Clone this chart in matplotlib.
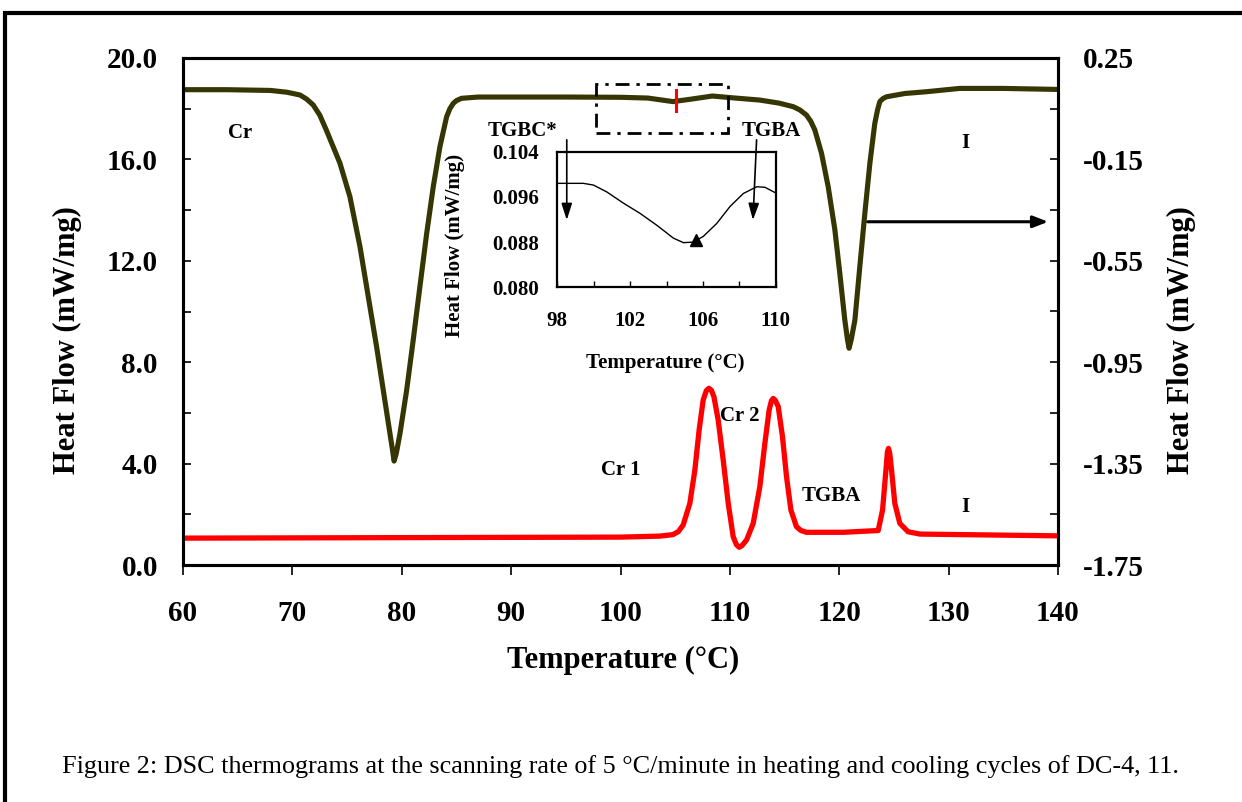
import matplotlib
matplotlib.use("Agg")
import matplotlib.pyplot as plt
import matplotlib.patches as patches
import numpy as np

plt.rcParams['font.family'] = ['Liberation Serif', 'DejaVu Serif']

# ---------------- data ----------------
heat_T = [60, 64, 68, 69.5, 70.7, 71.3, 71.9, 72.5, 73.1, 74.35, 75.26, 76.18, 76.94, 77.7,
          78.31, 78.92, 79.15, 79.3, 79.5, 79.84, 80.45, 81.05, 81.66, 82.28, 82.88,
          83.49, 84.1, 84.4, 84.71, 85.0, 85.47, 87, 95, 100, 102.5, 104.8, 106.5, 108.4, 110.5,
          112.74, 114.5, 115.79, 116.4, 117.0, 117.4, 117.77, 118.38, 118.99, 119.6, 120.05,
          120.51, 120.75, 120.9, 121.1, 121.43, 121.88, 122.34, 122.8, 123.25, 123.5, 123.71,
          124.0, 124.32, 126, 127.98, 131.0, 135, 140]
heat_v = [18.75, 18.75, 18.72, 18.65, 18.54, 18.38, 18.15, 17.75, 17.16, 15.85, 14.53, 12.56,
          10.58, 8.61, 6.90, 5.19, 4.55, 4.1, 4.4, 5.19, 6.90, 8.88, 10.98, 13.08, 14.92,
          16.50, 17.68, 18.0, 18.21, 18.32, 18.41, 18.46, 18.46, 18.45, 18.42, 18.28, 18.38,
          18.5, 18.42, 18.34, 18.22, 18.08, 17.95, 17.75, 17.5, 17.16, 16.24, 14.92, 13.22,
          11.51, 9.66, 8.9, 8.55, 8.9, 9.66, 11.77, 13.87, 15.85, 17.42, 17.95, 18.28,
          18.4, 18.47, 18.6, 18.67, 18.8, 18.8, 18.76]

cool_T = [60, 80, 100, 103.6, 104.8, 105.3, 105.73, 106.34, 106.8, 107.19, 107.56, 107.85,
          108.08, 108.3, 108.54, 108.93, 109.39, 109.85, 110.3, 110.6, 110.85, 111.1, 111.53,
          112.13, 112.74, 113.2, 113.59, 113.8, 113.96, 114.15, 114.42, 114.81, 115.18, 115.58,
          116.09, 116.5, 117.0, 120.36, 123.56, 123.96, 124.27, 124.4, 124.5, 124.62, 124.78,
          125.08, 125.54, 126.3, 127.37, 140]
cool_v = [1.06, 1.08, 1.10, 1.14, 1.2, 1.32, 1.58, 2.43, 3.75, 5.33, 6.51, 6.88,
          6.97, 6.9, 6.64, 5.72, 4.14, 2.43, 1.12, 0.8, 0.7, 0.76, 0.99,
          1.64, 3.09, 4.80, 6.11, 6.48, 6.57, 6.5, 6.25, 5.06, 3.48, 2.17,
          1.51, 1.36, 1.29, 1.29, 1.36, 2.17, 3.75, 4.45, 4.6, 4.4, 3.75,
          2.43, 1.64, 1.31, 1.22, 1.15]

inset_T = [98, 99.43, 99.98, 100.71, 101.63, 102.54, 103.46, 104.38, 104.93, 105.47,
           106.02, 106.76, 107.49, 108.22, 108.96, 109.41, 110]
inset_v = [0.0984, 0.0984, 0.0981, 0.0969, 0.0949, 0.0931, 0.0910, 0.0887, 0.0879, 0.0880,
           0.0890, 0.0913, 0.0943, 0.0966, 0.0978, 0.0977, 0.0967]

x_ticks = [60, 70, 80, 90, 100, 110, 120, 130, 140]
y_ticks = [0.0, 4.0, 8.0, 12.0, 16.0, 20.0]
y2_ticks = [-1.75, -1.35, -0.95, -0.55, -0.15, 0.25]
inset_xticks = [98, 102, 106, 110]
inset_yticks = [0.080, 0.088, 0.096, 0.104]

phase_labels = [("Cr", 65.2, 17.04), ("I", 131.5, 16.65), ("Cr 1", 100.0, 3.75),
                ("Cr 2", 110.9, 5.88), ("TGBA", 119.3, 2.74), ("I", 131.5, 2.29),
                ("TGBC*", 91.0, 17.12), ("TGBA", 113.75, 17.12)]

caption = "Figure 2: DSC thermograms at the scanning rate of 5 \u00b0C/minute in heating and cooling cycles of DC-4, 11."

# ---------------- figure ----------------
W, H = 1242, 802
fig = plt.figure(figsize=(W / 100, H / 100), dpi=100)

def fx(px):
    return px / W

def fy(py):
    return 1 - py / H

# outer frame
fig.patches.append(patches.Rectangle((fx(5), -0.5), 2, fy(13) + 0.5, transform=fig.transFigure,
                                     fill=False, lw=3, ec='black'))

ax = fig.add_axes([fx(183), fy(565), fx(1058) - fx(183), fy(58) - fy(565)])
ax.plot(heat_T, heat_v, color='#363604', lw=3.7, solid_joinstyle='round', zorder=3)
ax.plot(cool_T, cool_v, color='#ff0000', lw=3.8, solid_joinstyle='round', zorder=3)

ax.set_xlim(60, 140)
ax.set_ylim(0, 20)
ax.set_xticks(x_ticks)
ax.set_xticklabels([str(t) for t in x_ticks])
ax.set_yticks(y_ticks)
ax.set_yticklabels([f"{t:.1f}" for t in y_ticks])
ax.set_yticks(np.arange(2, 20, 4), minor=True)
for s in ax.spines.values():
    s.set_linewidth(2.2)
ax.tick_params(axis='x', direction='out', length=7, width=1.2, pad=18, labelsize=21)
ax.tick_params(axis='y', which='both', direction='in', length=6, width=1.2, pad=18, labelsize=21)
for lab in ax.get_xticklabels() + ax.get_yticklabels():
    lab.set_fontweight('bold')

ax2 = ax.twinx()
ax2.set_ylim(-1.75, 0.25)
ax2.set_yticks(y2_ticks)
ax2.set_yticklabels([f"{t:.2f}" for t in y2_ticks])
ax2.set_yticks(np.arange(-1.55, 0.25, 0.4), minor=True)
ax2.tick_params(axis='y', which='both', direction='in', length=6, width=1.2, pad=18, labelsize=21)
for lab in ax2.get_yticklabels():
    lab.set_fontweight('bold')
for s in ax2.spines.values():
    s.set_linewidth(2.2)

# dash-dot box and red marker
ax.add_patch(patches.Rectangle((97.75, 17.04), 109.8 - 97.75, 18.97 - 17.04, fill=False,
                               ec='black', lw=2.0, ls=(0, (5, 2.5, 1.2, 2.5)), zorder=4))
ax.plot([105.05, 105.05], [17.9, 18.75], color='#ff0000', lw=2.2, zorder=5)

# horizontal arrow
ax.annotate('', xy=(139.1, 13.54), xytext=(122.6, 13.54),
            arrowprops=dict(arrowstyle='-|>,head_length=0.9,head_width=0.35', color='black', lw=2.2,
                            shrinkA=0, shrinkB=0))

# phase labels
for txt, tx, ty in phase_labels:
    ax.text(tx, ty, txt, fontsize=15, fontweight='bold', ha='center', va='center', zorder=6)

# axis labels
fig.text(fx(67), fy(340), "Heat Flow (mW/mg)", rotation=90, fontsize=22, fontweight='bold',
         ha='center', va='center')
fig.text(fx(1181), fy(340), "Heat Flow (mW/mg)", rotation=90, fontsize=22, fontweight='bold',
         ha='center', va='center')
fig.text(fx(623), fy(660), "Temperature (\u00b0C)", fontsize=22, fontweight='bold',
         ha='center', va='center')

# inset
axi = fig.add_axes([fx(557.3), fy(287.3), fx(775.7) - fx(557.3), fy(151.7) - fy(287.3)])
axi.plot(inset_T, inset_v, color='black', lw=1.0)
axi.set_xlim(98, 110)
axi.set_ylim(0.080, 0.104)
axi.set_xticks(inset_xticks)
axi.set_xticklabels([str(t) for t in inset_xticks])
axi.set_xticks([100, 104, 108], minor=True)
axi.set_yticks(inset_yticks)
axi.set_yticklabels([f"{t:.3f}" for t in inset_yticks])
axi.tick_params(axis='x', which='both', direction='in', length=4, width=1, pad=17, labelsize=15)
axi.tick_params(axis='y', which='both', direction='in', length=0, pad=13, labelsize=15)
for lab in axi.get_xticklabels() + axi.get_yticklabels():
    lab.set_fontweight('bold')
for s in axi.spines.values():
    s.set_linewidth(1.6)

# inset arrows (from labels above down into inset)
axi.annotate('', xy=(98.52, 0.0919), xytext=(98.52, 0.1061), annotation_clip=False,
             arrowprops=dict(arrowstyle='-|>,head_length=1.0,head_width=0.32', color='black', lw=1.2,
                             shrinkA=0, shrinkB=0))
axi.annotate('', xy=(108.75, 0.0919), xytext=(108.95, 0.1061), annotation_clip=False,
             arrowprops=dict(arrowstyle='-|>,head_length=1.0,head_width=0.32', color='black', lw=1.2,
                             shrinkA=0, shrinkB=0))
axi.plot([105.6], [0.0884], marker='^', color='black', markersize=8)

fig.text(fx(455), fy(245), "Heat Flow (mW/mg)", rotation=90, fontsize=15, fontweight='bold',
         ha='center', va='center')
fig.text(fx(665), fy(363), "Temperature (\u00b0C)", fontsize=15, fontweight='bold',
         ha='center', va='center')

# caption
fig.text(fx(62), fy(767), caption, fontsize=18.8, ha='left', va='center')

fig.savefig("out.png", dpi=100)
